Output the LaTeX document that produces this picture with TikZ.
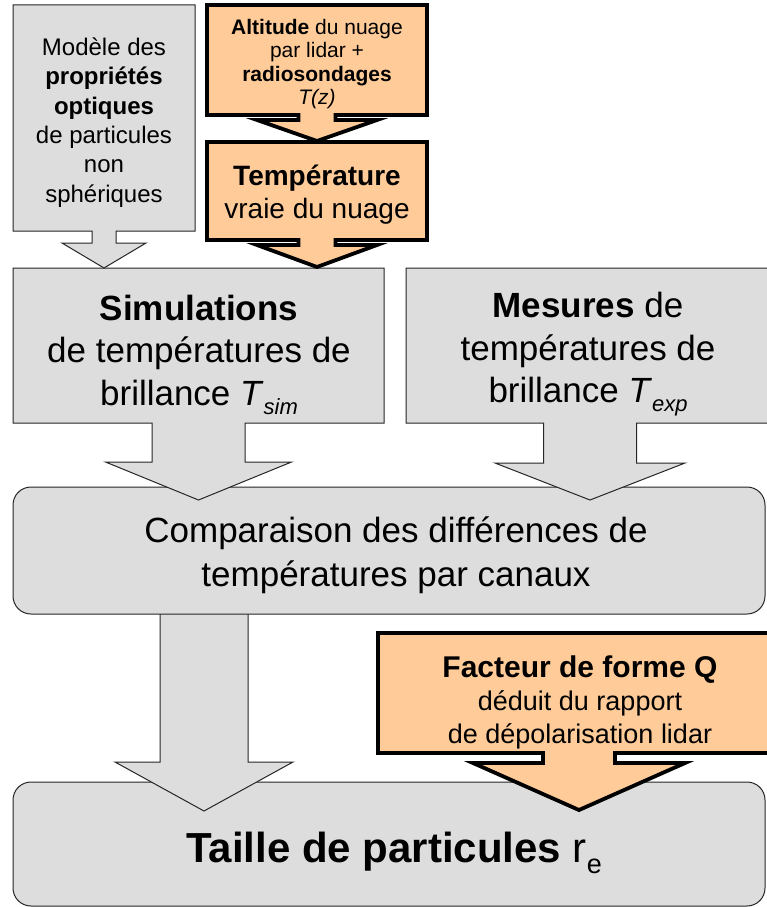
\documentclass[tikz,border=0pt]{standalone}
\usepackage{fontspec}
\setmainfont{Liberation Sans}
\usetikzlibrary{calc}
\definecolor{boxgray}{HTML}{DDDDDD}
\definecolor{boxorange}{HTML}{FFCC99}
\newcommand\mycallout[6]{%
 \draw[#1] (#2.north west) -- (#2.north east) -- (#2.south east)
 -- ($(#2.south)+(#3,0)$) -- ($(#2.south)+(#3,#4)$) -- ($(#2.south)+(#5,#4)$)
 -- ($(#2.south)+(0,#4+#6)$) -- ($(#2.south)+(-#5,#4)$) -- ($(#2.south)+(-#3,#4)$)
 -- ($(#2.south)+(-#3,0)$) -- (#2.south west) -- cycle;}
\newcommand\subit[1]{\raisebox{-9pt}{\fontsize{22}{22}\selectfont\itshape #1}}
\begin{document}
\begin{tikzpicture}[x=1pt,y=-1pt,
  graybox/.style={fill=boxgray, draw=black!85, line width=1pt, line join=miter},
  orangebox/.style={fill=boxorange, draw=black, line width=3.8pt, line join=miter, miter limit=10},
  shapebox/.style={inner sep=0pt, outer sep=0pt, draw=none},
  roundbox/.style={graybox, inner sep=0pt, outer sep=0pt, rounded corners=18pt},
  txt/.style={align=center, inner sep=0pt, outer sep=0pt}]
\useasboundingbox (0,0) rectangle (767,907);
\fill[white] (0,0) rectangle (767,907);
% bottom result box
\node[roundbox, minimum width=752, minimum height=124] (taille) at (389,844) {};
% comparison arrow
\coordinate (ca) at (204,614);
\fill[boxgray] ($(ca)+(-44,-14)$) -- ($(ca)+(-44,148)$) -- ($(ca)+(-89,148)$) -- ($(ca)+(0,197)$) -- ($(ca)+(89,148)$) -- ($(ca)+(44,148)$) -- ($(ca)+(44,-14)$) -- cycle;
\draw[black!85, line width=1pt, line join=miter] ($(ca)+(-44,-14)$) -- ($(ca)+(-44,148)$) -- ($(ca)+(-89,148)$) -- ($(ca)+(0,197)$) -- ($(ca)+(89,148)$) -- ($(ca)+(44,148)$) -- ($(ca)+(44,-14)$);
% comparison box
\node[roundbox, minimum width=752, minimum height=127] (comp) at (389,550.5) {};
% shape factor
\node[shapebox, minimum width=402, minimum height=120] (fac) at (579,693) {};
\mycallout{orangebox}{fac}{36}{10}{106}{47}
% simulations and measures
\node[shapebox, minimum width=371, minimum height=155] (sim) at (198.5,345.5) {};
\mycallout{graybox}{sim}{46.5}{39}{93}{38}
\node[shapebox, minimum width=368, minimum height=155] (mes) at (590,345.5) {};
\mycallout{graybox}{mes}{46.5}{40}{95}{37}
% model
\node[shapebox, minimum width=182, minimum height=226] (mod) at (104,118) {};
\mycallout{graybox}{mod}{12}{12}{42}{25}
% altitude and temperature
\node[shapebox, minimum width=220, minimum height=110] (alt) at (317,60) {};
\mycallout{orangebox}{alt}{18.5}{5}{60}{21}
\node[shapebox, minimum width=220, minimum height=98] (temp) at (317,191) {};
\mycallout{orangebox}{temp}{18.5}{5}{60}{22}
% texts
\node[txt, font=\fontsize{24}{29.3}\selectfont] (modt) at (104,122.6)
  {Modèle des\\\textbf{propriétés}\\\textbf{optiques}\\de particules\\non\\sphériques};
\node[txt, font=\fontsize{21}{23.4}\selectfont] (altt) at (317,64.2)
  {\textbf{Altitude} du nuage\\par lidar +\\\textbf{radiosondages}\\\textit{T(z)}};
\node[txt, font=\fontsize{28}{33}\selectfont] (tempt) at (317,195)
  {\textbf{Température}\\vraie du nuage};
\node[txt, font=\fontsize{35}{42.5}\selectfont] (simt) at (199,354.5)
  {\textbf{Simulations}\\de températures de\\brillance \textit{T}\subit{sim}};
\node[txt, font=\fontsize{35}{42.5}\selectfont] (mest) at (588,354.5)
  {\textbf{Mesures} de\\températures de\\brillance \textit{T}\subit{exp}};
\node[txt, font=\fontsize{35}{44}\selectfont] (compt) at (396,555.5)
  {Comparaison des différences de\\températures par canaux};
\node[txt, font=\fontsize{27}{33}\selectfont] (fact) at (580,702.5)
  {{\fontsize{30}{33}\selectfont\textbf{Facteur de forme Q}}\\déduit du rapport\\de dépolarisation lidar};
\node[txt, font=\fontsize{42}{48}\selectfont, anchor=base] (taillet) at (394,862)
  {\textbf{Taille de particules} r\raisebox{-11pt}{\fontsize{27}{27}\selectfont e}};
\end{tikzpicture}
\end{document}
